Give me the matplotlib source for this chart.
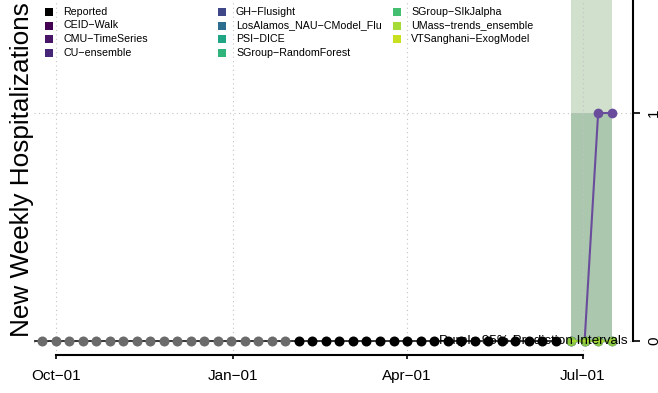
import numpy as np
import pandas as pd
import matplotlib
matplotlib.use("Agg")
import matplotlib.pyplot as plt
import matplotlib.dates as mdates
from matplotlib.patches import Rectangle

plt.rcParams['font.family'] = ['Liberation Sans', 'DejaVu Sans']

# reported weekly hospitalizations (gray = earlier weeks, black = recent weeks)
gray_dates = pd.date_range("2022-09-17", "2023-01-28", freq="7D")
gray_values = [0, 0, 0, 0, 0, 0, 0, 0, 0, 0, 0, 0, 0, 0, 0, 0, 0, 0, 0, 0]
black_dates = pd.date_range("2023-02-04", "2023-06-17", freq="7D")
black_values = [0, 0, 0, 0, 0, 0, 0, 0, 0, 0, 0, 0, 0, 0, 0, 0, 0, 0, 0, 0]

# forecasts
fc_dates = pd.to_datetime(["2023-06-25", "2023-07-02", "2023-07-09", "2023-07-16"])
models = ["CEID\u2212Walk", "CMU\u2212TimeSeries", "CU\u2212ensemble", "GH\u2212Flusight",
          "LosAlamos_NAU\u2212CModel_Flu", "PSI\u2212DICE", "SGroup\u2212RandomForest",
          "SGroup\u2212SIkJalpha", "UMass\u2212trends_ensemble", "VTSanghani\u2212ExogModel"]
model_colors = ["#440154", "#481467", "#482677", "#3f4788", "#2d6e8e",
                "#21a685", "#2fb47c", "#44bf70", "#a5db36", "#c8e020"]
model_medians = [[0, 0, 0, 0], [0, 0, 0, 0], [0, 0, 1, 1], [0, 0, 0, 0], [0, 0, 0, 0],
                 [0, 0, 0, 0], [0, 0, 0, 0], [0, 0, 0, 0], [0, 0, 0, 0], [0, 0, 0, 0]]

# prediction interval bands
pi_lower = [0, 0, 0, 0]
pi_upper_outer = [2, 2, 2, 2]
pi_upper_inner = [1, 1, 1, 1]

tick_dates = pd.to_datetime(["2022-10-01", "2023-01-01", "2023-04-01", "2023-07-01"])
tick_labels = ["Oct\u221201", "Jan\u221201", "Apr\u221201", "Jul\u221201"]

W, H = 658, 393
fig = plt.figure(figsize=(W / 100, H / 100), dpi=100)
ax = fig.add_axes([34 / W, (H - 355) / H, (633 - 34) / W, 355 / H])

ytop = 1.4956
ax.set_xlim(tick_dates[0] - pd.Timedelta(days=11.24), tick_dates[-1] + pd.Timedelta(days=26.06))
ax.set_ylim(-0.0614, ytop)

# bands
ax.fill_between(fc_dates, pi_lower, pi_upper_outer, color="#d0e0cc", lw=0, zorder=1)
ax.fill_between(fc_dates, pi_lower, pi_upper_inner, color="#abc7ae", lw=0, zorder=1)

# forecast medians
for name, col, med in zip(models, model_colors, model_medians):
    if max(med) > 0:
        ax.plot(fc_dates, med, color="#6a4c9c", lw=1.5, marker="o", ms=7,
                markeredgewidth=0, zorder=2)
for name, col, med in zip(models, model_colors, model_medians):
    if max(med) == 0:
        ax.plot(fc_dates, med, color=col, alpha=0.4, lw=1.5, marker="o", ms=6.8,
                markeredgewidth=0, zorder=2.2)

ax.text(0.9917, 0, "Purple 95% Prediction Intervals", transform=ax.get_yaxis_transform(),
        ha="right", va="center", fontsize=9.7, zorder=3)

# reported
all_dates = list(gray_dates) + list(black_dates)
all_values = gray_values + black_values
ax.plot(all_dates, all_values, color="black", lw=1.1, zorder=4)
ax.plot(gray_dates, gray_values, "o", color="#6b6b6b", ms=7.2, markeredgewidth=0, zorder=4.5)
ax.plot(black_dates, black_values, "o", color="black", ms=7.2, markeredgewidth=0, zorder=4.5)

# axes styling
ax.spines["top"].set_visible(False)
ax.spines["left"].set_visible(False)
ax.spines["bottom"].set_bounds(mdates.date2num(tick_dates[0]), mdates.date2num(tick_dates[-1]))
ax.spines["right"].set_bounds(0, ytop)
ax.spines["bottom"].set_linewidth(1.5)
ax.spines["right"].set_linewidth(1.5)

ax.set_xticks(tick_dates)
ax.set_xticklabels(tick_labels)
ax.tick_params(axis="x", length=3, width=1.2, pad=7, labelsize=11)
ax.yaxis.tick_right()
ax.set_yticks([0, 1])
ax.set_yticklabels(["0", "1"])
ax.tick_params(axis="y", length=5, width=1.2, pad=5, labelsize=11, labelrotation=90)
for lab in ax.get_yticklabels():
    lab.set_va("center")

ax.grid(True, color="#c4c4c4", linestyle=(0, (1, 3)), linewidth=0.8)

fig.text(22 / W, 1 - 170 / H, "New Weekly Hospitalizations", rotation=90,
         ha="center", va="center", fontsize=18.8)

# legend (3 equal-width columns, like base R)
leg_names = ["Reported"] + models
leg_colors = ["black"] + model_colors
col_x = [45, 218, 393]
row_y = [11.8, 25.5, 39.2, 52.9]
for i, (name, col) in enumerate(zip(leg_names, leg_colors)):
    c, r = divmod(i, 4)
    x0, y0 = col_x[c], row_y[r]
    fig.patches.append(Rectangle((x0 / W, 1 - (y0 + 4) / H), 8 / W, 8 / H,
                                 transform=fig.transFigure, color=col, lw=0))
    fig.text((x0 + 18) / W, 1 - y0 / H, name, ha="left", va="center", fontsize=7.7)

fig.savefig("out.png", dpi=100)
